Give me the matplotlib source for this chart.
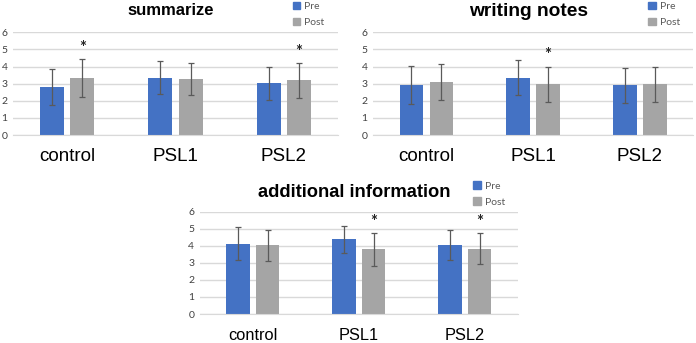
import numpy as np
import matplotlib.pyplot as plt
from matplotlib.patches import Patch

groups = ["control", "PSL1", "PSL2"]

summ_pre = [2.81, 3.36, 3.03]
summ_pre_sd = [1.07, 0.98, 0.97]
summ_post = [3.32, 3.27, 3.19]
summ_post_sd = [1.10, 0.94, 1.03]
summ_star = [False, False, False], [True, False, True]

notes_pre = [2.94, 3.36, 2.90]
notes_pre_sd = [1.10, 1.00, 1.04]
notes_post = [3.10, 2.98, 2.97]
notes_post_sd = [1.03, 1.02, 1.02]
notes_star = [False, False, False], [False, True, False]

add_pre = [4.13, 4.38, 4.07]
add_pre_sd = [0.96, 0.80, 0.88]
add_post = [4.03, 3.81, 3.84]
add_post_sd = [0.90, 0.97, 0.90]
add_star = [False, False, False], [False, True, True]

BLUE = "#4472C4"
GRAY = "#A5A5A5"


def panel(ax, title, pre, pre_sd, post, post_sd, stars, tsize, tpad, xsize, xpad):
    x = np.arange(len(groups))
    w = 0.22
    off = 0.14
    ekw = dict(ecolor="#5a5a5a", elinewidth=0.9, capsize=2.5, capthick=0.9)
    ax.bar(x - off, pre, w, color=BLUE, yerr=pre_sd, error_kw=ekw, zorder=2)
    ax.bar(x + off, post, w, color=GRAY, yerr=post_sd, error_kw=ekw, zorder=2)
    for i in range(len(groups)):
        if stars[0][i]:
            ax.text(x[i] - off, pre[i] + pre_sd[i] + 0.65, "*", ha="center",
                    va="center", fontsize=12, fontweight="bold", color="#222222")
        if stars[1][i]:
            ax.text(x[i] + off, post[i] + post_sd[i] + 0.65, "*", ha="center",
                    va="center", fontsize=12, fontweight="bold", color="#222222")
    ax.set_xlim(-0.5, 2.5)
    ax.set_ylim(0, 6)
    ax.set_yticks(range(7))
    ax.grid(axis="y", color="#d9d9d9", linewidth=1.0, zorder=0)
    for s in ["top", "right", "left"]:
        ax.spines[s].set_visible(False)
    ax.spines["bottom"].set_color("#d9d9d9")
    ax.tick_params(axis="y", length=0, labelsize=7.5, labelcolor="#404040", pad=4)
    ax.tick_params(axis="x", length=0, labelsize=xsize, pad=xpad)
    ax.set_xticks(x)
    ax.set_xticklabels(groups, family="Liberation Sans")
    ax.set_title(title, fontsize=tsize, fontweight="bold", x=0.485, pad=tpad,
                 family="Liberation Sans")
    handles = [Patch(color=BLUE, label="Pre"), Patch(color=GRAY, label="Post")]
    ax.legend(handles=handles, loc="lower left", bbox_to_anchor=(0.86, 1.05),
              frameon=False, fontsize=7.5, handlelength=0.7, handleheight=0.7,
              handletextpad=0.4, labelspacing=0.65, labelcolor="#595959",
              borderaxespad=0, borderpad=0)


def main():
    plt.rcParams["font.family"] = ["Lato", "DejaVu Sans"]
    fig = plt.figure(figsize=(6.96, 3.43), dpi=100)
    ax1 = fig.add_axes([0.0187, 0.606, 0.467, 0.300])
    ax2 = fig.add_axes([0.536, 0.606, 0.460, 0.300])
    ax3 = fig.add_axes([0.287, 0.0845, 0.457, 0.298])
    panel(ax1, "summarize", summ_pre, summ_pre_sd, summ_post, summ_post_sd,
          summ_star, 12, 12.5, 13.5, 9)
    panel(ax2, "writing notes", notes_pre, notes_pre_sd, notes_post, notes_post_sd,
          notes_star, 13.8, 12, 13.5, 9)
    panel(ax3, "additional information", add_pre, add_pre_sd, add_post, add_post_sd,
          add_star, 13.2, 10.5, 11.8, 10)
    fig.savefig("out.png", dpi=100)


if __name__ == '__main__':
    main()
